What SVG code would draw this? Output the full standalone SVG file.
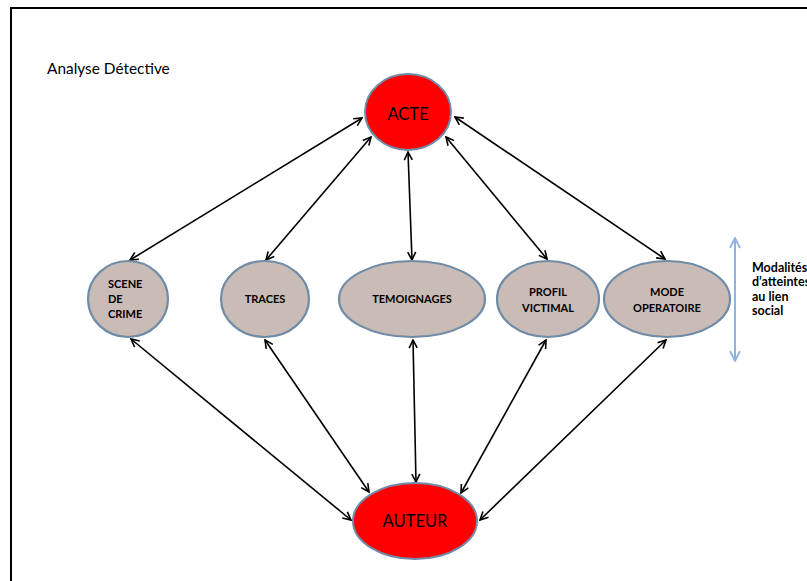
<svg xmlns="http://www.w3.org/2000/svg" width="807" height="581" viewBox="0 0 807 581">
<style>
.lbl{font-family:Lato,"Liberation Sans",sans-serif;font-weight:bold;font-size:11px;fill:#000}
.side{font-family:Lato,"Liberation Sans",sans-serif;font-weight:bold;font-size:12.5px;fill:#000}
.big{font-family:Lato,"Liberation Sans",sans-serif;font-size:16.5px;fill:#000}
.red{fill:#FF0000;stroke:#6F8BA6;stroke-width:2}
.grey{fill:#C9BBB6;stroke:#6F8BA6;stroke-width:2.2}
.conn{stroke:#000;stroke-width:1.6;fill:none;marker-start:url(#ah);marker-end:url(#ah)}
</style>
<defs>
<marker id="ah" markerUnits="userSpaceOnUse" viewBox="0 0 10 10" refX="9" refY="5" markerWidth="10" markerHeight="10" orient="auto-start-reverse">
<path d="M1,1 L9,5 L1,9" fill="none" stroke="#000" stroke-width="1.6"/>
</marker>
<marker id="bh" markerUnits="userSpaceOnUse" viewBox="0 0 12 12" refX="11" refY="6" markerWidth="12" markerHeight="12" orient="auto-start-reverse">
<path d="M1,1 L11,6 L1,11" fill="none" stroke="#8DB3E2" stroke-width="1.8"/>
</marker>
</defs>
<rect x="0" y="0" width="807" height="581" fill="#fff"/>
<path d="M11,581 V8 H807" fill="none" stroke="#000" stroke-width="2"/>
<text x="47" y="74" font-family="Lato,'Liberation Sans',sans-serif" font-size="15.4">Analyse Détective</text>
<g id="connectors">
<line class="conn" x1="362" y1="118" x2="130" y2="260"/>
<line class="conn" x1="371" y1="137" x2="266" y2="260"/>
<line class="conn" x1="408" y1="152" x2="412" y2="260"/>
<line class="conn" x1="446" y1="137" x2="547" y2="259"/>
<line class="conn" x1="455" y1="117" x2="665" y2="259"/>
<line class="conn" x1="131" y1="339" x2="351" y2="520"/>
<line class="conn" x1="265" y1="340" x2="369" y2="492"/>
<line class="conn" x1="413" y1="340" x2="416" y2="482"/>
<line class="conn" x1="546" y1="340" x2="461" y2="493"/>
<line class="conn" x1="666" y1="340" x2="480" y2="520"/>
</g>
<g id="acte">
<ellipse class="red" cx="408" cy="112" rx="43" ry="38"/>
<text class="big" x="408" y="120" text-anchor="middle">ACTE</text>
</g>
<g id="auteur">
<ellipse class="red" cx="415" cy="521" rx="62" ry="38"/>
<text class="big" x="415" y="527" text-anchor="middle">AUTEUR</text>
</g>
<g id="scene">
<ellipse class="grey" cx="128" cy="299" rx="40" ry="38"/>
<text class="lbl" x="108" y="288">SCENE</text>
<text class="lbl" x="108" y="303">DE</text>
<text class="lbl" x="108" y="318">CRIME</text>
</g>
<g id="traces">
<ellipse class="grey" cx="265" cy="299" rx="44" ry="38"/>
<text class="lbl" x="265" y="303" text-anchor="middle">TRACES</text>
</g>
<g id="temoignages">
<ellipse class="grey" cx="412" cy="299" rx="73" ry="38"/>
<text class="lbl" x="412" y="303" text-anchor="middle">TEMOIGNAGES</text>
</g>
<g id="profil">
<ellipse class="grey" cx="548" cy="299" rx="51" ry="38"/>
<text class="lbl" x="548" y="296" text-anchor="middle">PROFIL</text>
<text class="lbl" x="548" y="312" text-anchor="middle">VICTIMAL</text>
</g>
<g id="mode">
<ellipse class="grey" cx="667" cy="299" rx="63" ry="38"/>
<text class="lbl" x="667" y="296" text-anchor="middle">MODE</text>
<text class="lbl" x="667" y="312" text-anchor="middle">OPERATOIRE</text>
</g>
<g id="modalites">
<line x1="735" y1="238" x2="735" y2="361" stroke="#8DB3E2" stroke-width="2" marker-start="url(#bh)" marker-end="url(#bh)"/>
<text class="side" x="752" y="272">Modalités</text>
<text class="side" x="752" y="286">d’atteintes</text>
<text class="side" x="752" y="301">au lien</text>
<text class="side" x="752" y="315">social</text>
</g>
</svg>
